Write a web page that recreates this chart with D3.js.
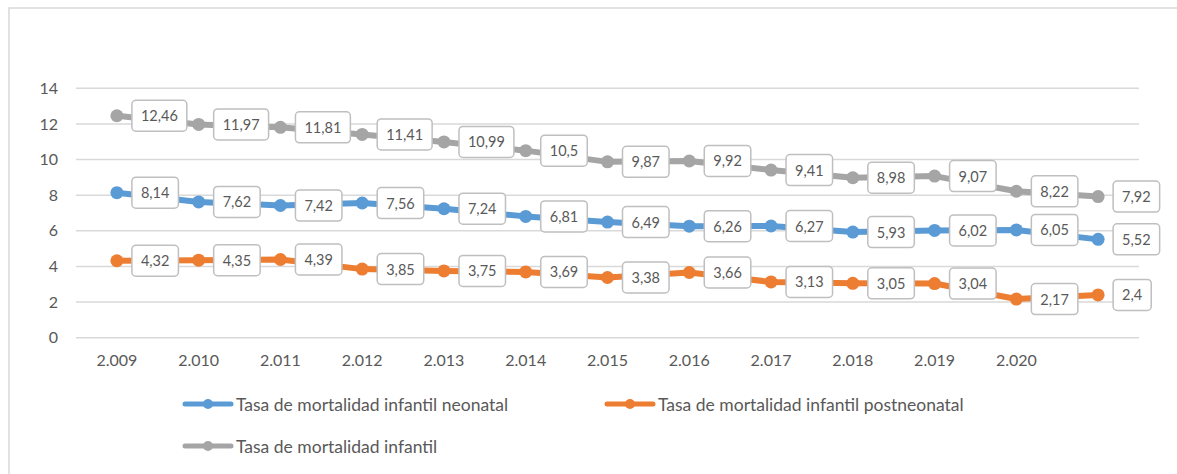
<!DOCTYPE html>
<html>
<head>
<meta charset="utf-8">
<script src="https://cdn.jsdelivr.net/npm/d3@7"></script>
<style>
  body { margin: 0; background: #fff; }
  text { font-family: Lato, "Open Sans", sans-serif; fill: #595959; }
</style>
</head>
<body>
<div id="chart"></div>
<script>
// data
var years = [2009, 2010, 2011, 2012, 2013, 2014, 2015, 2016, 2017, 2018, 2019, 2020, 2021];
var tickLabels = ["2.009", "2.010", "2.011", "2.012", "2.013", "2.014", "2.015", "2.016", "2.017", "2.018", "2.019", "2.020", ""];
var neonatal = [8.14, 7.62, 7.42, 7.56, 7.24, 6.81, 6.49, 6.26, 6.27, 5.93, 6.02, 6.05, 5.52];
var postneonatal = [4.32, 4.35, 4.39, 3.85, 3.75, 3.69, 3.38, 3.66, 3.13, 3.05, 3.04, 2.17, 2.4];
var infantil = [12.46, 11.97, 11.81, 11.41, 10.99, 10.5, 9.87, 9.92, 9.41, 8.98, 9.07, 8.22, 7.92];
var seriesNames = ["Tasa de mortalidad infantil neonatal", "Tasa de mortalidad infantil postneonatal", "Tasa de mortalidad infantil"];
var yTicks = [0, 2, 4, 6, 8, 10, 12, 14];

var colors = ["#5B9BD5", "#ED7D31", "#A5A5A5"];
var series = [neonatal, postneonatal, infantil].map(function(vals, i) {
  return { name: seriesNames[i], color: colors[i],
           values: vals.map(function(v, j) { return { year: years[j], v: v }; }) };
});

var W = 1177, H = 474;
var svg = d3.select("#chart").append("svg")
    .attr("width", W)
    .attr("height", H);

// chart border
svg.append("rect")
    .attr("x", 9).attr("y", 8)
    .attr("width", W + 20).attr("height", H + 20)
    .attr("fill", "#fff")
    .attr("stroke", "#d9d9d9")
    .attr("stroke-width", 1.5);

// scales
var x = d3.scaleBand()
    .domain(years)
    .range([76, 1139]);

var y = d3.scaleLinear()
    .domain([0, 14])
    .range([337.7, 88.3]);

// gridlines
svg.append("g")
  .selectAll("line")
  .data(yTicks)
  .enter().append("line")
    .attr("x1", 76).attr("x2", 1139)
    .attr("y1", function(d) { return y(d); })
    .attr("y2", function(d) { return y(d); })
    .attr("stroke", "#d9d9d9")
    .attr("stroke-width", 1.5);

// y axis labels
var yAxis = svg.append("g")
    .attr("transform", "translate(66,0)")
    .call(d3.axisLeft(y).tickValues(yTicks).tickSize(0).tickPadding(8));
yAxis.select(".domain").remove();
yAxis.selectAll("text")
    .attr("font-family", "Lato, sans-serif")
    .attr("font-size", 16)
    .attr("fill", "#595959");

// x axis labels
var xAxis = svg.append("g")
    .attr("transform", "translate(0,349)")
    .call(d3.axisBottom(x).tickSize(0).tickPadding(6)
      .tickFormat(function(d, i) { return tickLabels[i]; }));
xAxis.select(".domain").remove();
xAxis.selectAll("text")
    .attr("font-family", "Lato, sans-serif")
    .attr("font-size", 16)
    .attr("fill", "#595959");

function cx(d) { return x(d.year) + x.bandwidth() / 2; }

var line = d3.line()
    .x(cx)
    .y(function(d) { return y(d.v); });

// lines and markers
series.forEach(function(s) {
  svg.append("path")
    .datum(s.values)
    .attr("fill", "none")
    .attr("stroke", s.color)
    .attr("stroke-width", 6)
    .attr("stroke-linejoin", "round")
    .attr("d", line);

  svg.append("g")
    .selectAll("circle")
    .data(s.values)
    .enter().append("circle")
      .attr("cx", cx)
      .attr("cy", function(d) { return y(d.v); })
      .attr("r", 6.5)
      .attr("fill", s.color);
});

// data labels (boxes to the right of each point)
series.forEach(function(s) {
  var g = svg.append("g")
    .selectAll("g")
    .data(s.values)
    .enter().append("g")
      .attr("transform", function(d) { return "translate(" + (cx(d) + 15) + "," + y(d.v) + ")"; });

  g.append("text")
      .attr("font-size", 14.5)
      .attr("dominant-baseline", "central")
      .attr("x", 9)
      .attr("y", 0)
      .text(function(d) { return String(d.v).replace(".", ","); });

  g.each(function() {
    var grp = d3.select(this);
    var w = grp.select("text").node().getComputedTextLength();
    grp.insert("rect", "text")
      .attr("x", 0).attr("y", -15.5)
      .attr("width", w + 18).attr("height", 31)
      .attr("rx", 4).attr("ry", 4)
      .attr("fill", "#fff")
      .attr("stroke", "#bfbfbf")
      .attr("stroke-width", 1.5);
  });
});

// legend
var legendPos = [{x: 183, y: 404}, {x: 605, y: 404}, {x: 183, y: 446}];
series.forEach(function(s, i) {
  var p = legendPos[i];
  var lg = svg.append("g").attr("transform", "translate(" + p.x + "," + p.y + ")");
  lg.append("line")
    .attr("x1", 2).attr("x2", 48)
    .attr("y1", 0).attr("y2", 0)
    .attr("stroke", s.color)
    .attr("stroke-width", 5)
    .attr("stroke-linecap", "round");
  lg.append("circle")
    .attr("cx", 25).attr("cy", 0)
    .attr("r", 5)
    .attr("fill", s.color);
  lg.append("text")
    .attr("x", 53).attr("y", 0)
    .attr("dominant-baseline", "central")
    .attr("font-size", 17.5)
    .text(s.name);
});
</script>
</body>
</html>
